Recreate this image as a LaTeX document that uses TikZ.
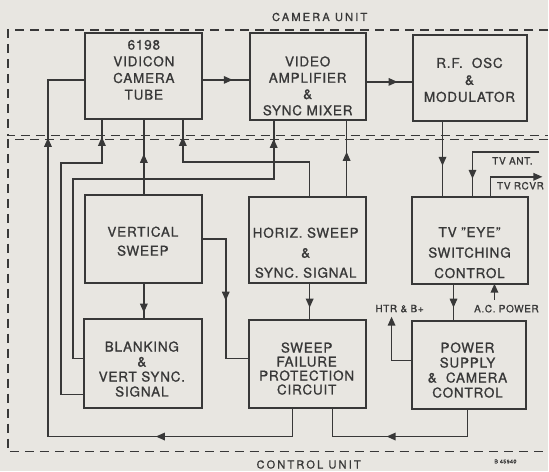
\documentclass[tikz,border=0pt]{standalone}
\usepackage{fontspec}
\setmainfont{TeX Gyre Heros}[LetterSpace=6,FakeBold=1]
\newfontfamily\widefont{TeX Gyre Heros}[LetterSpace=20,FakeBold=1]
\usetikzlibrary{arrows.meta,decorations.markings}
\definecolor{bg}{HTML}{E8E6E1}
\definecolor{ink}{HTML}{383838}
\begin{document}
\begin{tikzpicture}[x=1pt,y=-1pt,
 box/.style={draw=ink,line width=2pt,rectangle,inner sep=0pt,outer sep=0pt,anchor=north west},
 conn/.style={ink,line width=1.6pt},
 tip/.style={-{Triangle[length=9pt,width=7.5pt]}},
 arrat/.style={postaction={decorate,decoration={markings,mark=at position #1 with {\arrow{Triangle[length=9pt,width=7.5pt]}}}}},
 unitline/.style={draw=ink,line width=1.2pt,dash pattern=on 9pt off 6pt},
 lbl/.style={text=ink,align=center,inner sep=0pt,font=\fontsize{13.5}{#1}\selectfont},
 small/.style={text=ink,inner sep=0pt,font=\fontsize{10}{11}\selectfont},
 unitlbl/.style={text=ink,inner sep=0pt,font=\widefont\fontsize{11}{13}\selectfont},
]
\fill[bg] (0,0) rectangle (549,472);

% unit outlines
\draw[unitline] (549,30) -- (8,30) -- (8,136) -- (549,136);
\draw[unitline] (549,140) -- (8,140) -- (8,452) -- (549,452);
\node[unitlbl] (camunit) at (320,17) {CAMERA UNIT};
\node[unitlbl] (ctrlunit) at (309,465) {CONTROL UNIT};
\node[text=ink,inner sep=0pt,font=\fontsize{5.5}{6}\selectfont] (drawno) at (506,462) {B 45940};

% boxes
\node[box,minimum width=117pt,minimum height=86pt] (vid) at (85,33) {};
\node[box,minimum width=116pt,minimum height=87pt] (amp) at (250,33) {};
\node[box,minimum width=115pt,minimum height=86pt] (rf)  at (413,35) {};
\node[box,minimum width=117pt,minimum height=88pt] (vs)  at (85,195) {};
\node[box,minimum width=117pt,minimum height=86pt] (hs)  at (249,197) {};
\node[box,minimum width=117pt,minimum height=87pt] (eye) at (412,197) {};
\node[box,minimum width=118pt,minimum height=89pt] (blk) at (84,319) {};
\node[box,minimum width=117pt,minimum height=88pt] (sf)  at (249,320) {};
\node[box,minimum width=115pt,minimum height=88pt] (ps)  at (412,321) {};

% box texts
\node[lbl=16.7] (vid-t) at (144,70) {6198\\VIDICON\\CAMERA\\TUBE};
\node[lbl=16.3] (amp-t) at (308,86) {VIDEO\\AMPLIFIER\\\&\\SYNC MIXER};
\node[lbl=17] (rf-t) at (470,80) {R.F.\ \ OSC\\\&\\MODULATOR};
\node[lbl=19] (vs-t) at (143,241.5) {VERTICAL\\SWEEP};
\node[lbl=20] (hs-t) at (306,253) {HORIZ. SWEEP\\\&\\SYNC. SIGNAL};
\node[lbl=20.5] (eye-t) at (470,253) {TV "EYE"\\SWITCHING\\CONTROL};
\node[lbl=15] (blk-t) at (142,369.5) {BLANKING\\\&\\VERT SYNC.\\SIGNAL};
\node[lbl=14] (sf-t) at (307,369) {SWEEP\\FAILURE\\PROTECTION\\CIRCUIT};
\node[lbl=15] (ps-t) at (468,370.5) {POWER\\SUPPLY\\\&\ \ CAMERA\\CONTROL};

% free ends
\coordinate (ant) at (540,152);
\coordinate (rcvr) at (543,177);
\coordinate (acp) at (495,300);
\coordinate (htr) at (392,317);

% small labels
\node[small] (ant-t) at (513,161) {TV ANT.};
\node[small] (rcvr-t) at (521,186) {TV RCVR};
\node[small] (htr-t) at (400,309) {HTR \& B+};
\node[small] (acp-t) at (507,309) {A.C. POWER};

% connectors
\draw[conn,arrat=31pt] (vid.east|-0,80) -- (amp.west|-0,80);
\draw[conn,arrat=32pt] (amp.east|-0,82) -- (rf.west|-0,82);
\draw[conn,arrat=45pt] (443,0|-rf.south) -- (443,0|-eye.north);
\draw[conn,arrat=94pt] (ant) -| (473,0|-eye.north);
\draw[conn,tip] (491,0|-eye.north) |- (rcvr);
\draw[conn,arrat=24pt] (454,0|-eye.south) -- (454,0|-ps.north);
\draw[conn,tip] (acp) -- (acp|-eye.south);
\draw[conn,tip] (ps.west|-0,361) -| (htr);
\draw[conn,arrat=109pt] (468,0|-ps.south) |- (333,437) -- (333,0|-sf.south);
\draw[conn,arrat=166pt,arrat=573pt] (293,0|-sf.south) |- (48,437) -- (48,80) -- (vid.west|-0,80);
\draw[conn,arrat=322pt] (blk.west|-0,395) -| (61,163) -| (102,0|-vid.south);
\draw[conn,arrat=432pt] (blk.west|-0,359) -| (73,179) -| (274,0|-amp.south);
\draw[conn,arrat=41pt] (144,0|-vs.north) -- (144,0|-vid.south);
\draw[conn,arrat=187pt] (310,0|-hs.north) |- (183,162) -- (183,0|-vid.south);
\draw[conn,arrat=45pt] (347,0|-hs.north) -- (347,0|-amp.south);
\draw[conn,arrat=30pt] (144,0|-vs.south) -- (144,0|-blk.north);
\draw[conn,arrat=86pt] (vs.east|-0,239) -| (226,359) -- (sf.west|-0,359);
\draw[conn,arrat=25pt] (310,0|-hs.south) -- (310,0|-sf.north);
\end{tikzpicture}
\end{document}
